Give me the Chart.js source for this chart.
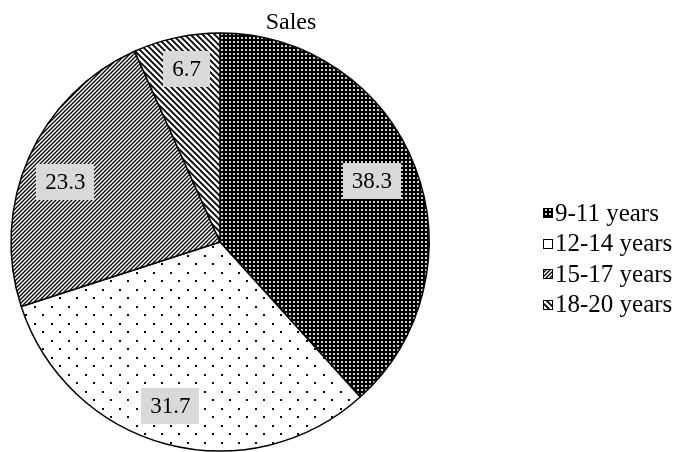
<!DOCTYPE html>
<html>
<head>
<meta charset="utf-8">
<title>Sales</title>
<script src="https://cdn.jsdelivr.net/npm/chart.js@4.4.1/dist/chart.umd.min.js"></script>
<style>
  html, body { margin: 0; padding: 0; background: #fff; }
  #wrap { width: 676px; height: 452px; position: relative; }
</style>
</head>
<body>
<div id="wrap"><canvas id="chart-sales"></canvas></div>
<script>
const titleText = 'Sales';
const ageGroups = ['9-11 years', '12-14 years', '15-17 years', '18-20 years'];
const salesShare = [38.3, 31.7, 23.3, 6.7];

const SERIF = '"Liberation Serif", "Times New Roman", serif';

// small canvas tiles used as fills for the slices and legend swatches
function makeTile(size, draw) {
  const tile = document.createElement('canvas');
  tile.width = size;
  tile.height = size;
  const ctx = tile.getContext('2d');
  draw(ctx, size);
  return ctx.createPattern(tile, 'repeat');
}

const denseDots = makeTile(4, (ctx, s) => {
  ctx.fillStyle = '#000';
  ctx.fillRect(0, 0, s, s);
  ctx.fillStyle = '#d0d0d0';
  ctx.fillRect(1, 1, 2, 2);
});

const sparseDots = makeTile(17, (ctx, s) => {
  ctx.fillStyle = '#fff';
  ctx.fillRect(0, 0, s, s);
  ctx.fillStyle = '#000';
  ctx.fillRect(0, 0, 2, 2);
  ctx.fillRect(8, 8, 2, 2);
});

const upHatch = makeTile(4, (ctx, s) => {
  ctx.fillStyle = '#fff';
  ctx.fillRect(0, 0, s, s);
  ctx.strokeStyle = '#000';
  ctx.lineWidth = 1.3;
  ctx.beginPath();
  ctx.moveTo(-1, s + 1); ctx.lineTo(s + 1, -1);
  ctx.moveTo(-1, 1); ctx.lineTo(1, -1);
  ctx.moveTo(s - 1, s + 1); ctx.lineTo(s + 1, s - 1);
  ctx.stroke();
});

const downHatch = makeTile(6, (ctx, s) => {
  ctx.fillStyle = '#fff';
  ctx.fillRect(0, 0, s, s);
  ctx.strokeStyle = '#000';
  ctx.lineWidth = 1.8;
  ctx.beginPath();
  ctx.moveTo(-1, -1); ctx.lineTo(s + 1, s + 1);
  ctx.moveTo(s - 1, -1); ctx.lineTo(s + 1, 1);
  ctx.moveTo(-1, s - 1); ctx.lineTo(1, s + 1);
  ctx.stroke();
});

const sliceFills = [denseDots, sparseDots, upHatch, downHatch];

// grey value boxes inside each slice; small nudges keep them off the edges
const boxNudge = [[-6, 0], [-6, 0], [0, 9], [2, -7]];

const valueBoxes = {
  id: 'valueBoxes',
  afterDatasetsDraw(chart) {
    const { ctx } = chart;
    const meta = chart.getDatasetMeta(0);
    ctx.save();
    ctx.font = '23px ' + SERIF;
    ctx.textAlign = 'center';
    ctx.textBaseline = 'middle';
    meta.data.forEach((arc, i) => {
      const { x, y, startAngle, endAngle, outerRadius } = arc.getProps(['x', 'y', 'startAngle', 'endAngle', 'outerRadius'], true);
      const mid = (startAngle + endAngle) / 2;
      const r = outerRadius * 0.81;
      const cx = x + Math.cos(mid) * r + boxNudge[i][0];
      const cy = y + Math.sin(mid) * r + boxNudge[i][1];
      const text = salesShare[i].toFixed(1);
      const w = ctx.measureText(text).width + 18;
      const h = 36;
      ctx.fillStyle = '#d9d9d9';
      ctx.fillRect(Math.round(cx - w / 2), Math.round(cy - h / 2), Math.round(w), h);
      ctx.fillStyle = '#000';
      ctx.fillText(text, cx, cy + 1);
    });
    ctx.restore();
  }
};

// title above the pie and the legend list on the right
const titleAndLegend = {
  id: 'titleAndLegend',
  afterDraw(chart) {
    const { ctx } = chart;
    ctx.save();
    ctx.fillStyle = '#000';
    ctx.font = '24px ' + SERIF;
    ctx.textAlign = 'center';
    ctx.textBaseline = 'alphabetic';
    ctx.fillText(titleText, 291, 29);

    ctx.font = '25px ' + SERIF;
    ctx.textAlign = 'left';
    ctx.textBaseline = 'middle';
    ageGroups.forEach((label, i) => {
      const cy = 213 + i * 30.5;
      ctx.fillStyle = sliceFills[i];
      ctx.fillRect(543, Math.round(cy - 5), 10, 10);
      ctx.strokeStyle = '#000';
      ctx.lineWidth = 1;
      ctx.strokeRect(543.5, Math.round(cy - 5) + 0.5, 9, 9);
      ctx.fillStyle = '#000';
      ctx.fillText(label, 555, cy + 1);
    });
    ctx.restore();
  }
};

new Chart(document.getElementById('chart-sales'), {
  type: 'pie',
  data: {
    labels: ageGroups,
    datasets: [
      {
        data: salesShare,
        backgroundColor: sliceFills,
        borderColor: '#000',
        borderWidth: 1.5,
        radius: 209
      }
    ]
  },
  options: {
    responsive: true,
    maintainAspectRatio: false,
    animation: false,
    layout: { padding: { left: 11, top: 33, right: 247, bottom: 1 } },
    plugins: {
      legend: { display: false },
      title: { display: false },
      tooltip: { enabled: false }
    }
  },
  plugins: [valueBoxes, titleAndLegend]
});
</script>
</body>
</html>
